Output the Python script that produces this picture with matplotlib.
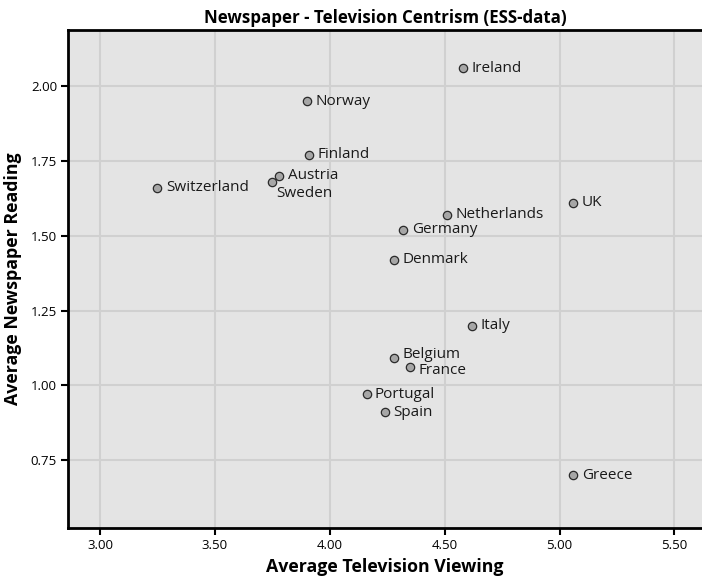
import matplotlib
matplotlib.use("Agg")
import matplotlib.pyplot as plt

# ESS country averages
countries = ["Ireland", "Norway", "Finland", "Austria", "Sweden", "Switzerland",
             "Netherlands", "Germany", "Denmark", "UK", "Italy", "Belgium",
             "France", "Portugal", "Spain", "Greece"]
tv_viewing = [4.58, 3.90, 3.91, 3.78, 3.75, 3.25,
              4.51, 4.32, 4.28, 5.06, 4.62, 4.28,
              4.35, 4.16, 4.24, 5.06]
newspaper_reading = [2.06, 1.95, 1.77, 1.70, 1.68, 1.66,
                     1.57, 1.52, 1.42, 1.61, 1.20, 1.09,
                     1.06, 0.97, 0.91, 0.70]

x_ticks = [3.0, 3.5, 4.0, 4.5, 5.0, 5.5]
y_ticks = [0.75, 1.0, 1.25, 1.5, 1.75, 2.0]

plt.rcParams['font.family'] = ['Open Sans', 'DejaVu Sans']

# label nudges (points) where the default right-hand placement would collide
label_offsets = {"Sweden": (3, -8), "Belgium": (6, 3), "France": (6, -2)}


def create_chart():
    fig = plt.figure(figsize=(7.02, 5.81), dpi=100)
    ax = fig.add_axes([0.097, 0.091, 0.903, 0.857])
    ax.set_facecolor('#e4e4e4')

    ax.scatter(tv_viewing, newspaper_reading, s=36, color='#a6a6a6',
               edgecolor='#2a2a2a', linewidth=0.9, zorder=3)

    for name, x, y in zip(countries, tv_viewing, newspaper_reading):
        off = label_offsets.get(name, (6, 0))
        ax.annotate(name, (x, y), xytext=off, textcoords='offset points',
                    fontsize=11, va='center', ha='left', color='#1a1a1a')

    ax.set_xlim(2.861, 5.62)
    ax.set_ylim(0.523, 2.187)
    ax.set_xticks(x_ticks)
    ax.set_yticks(y_ticks)
    ax.set_xticklabels([f"{t:.2f}" for t in x_ticks], fontsize=9.5)
    ax.set_yticklabels([f"{t:.2f}" for t in y_ticks], fontsize=9.5)
    ax.grid(True, color='#d0d0d0', linewidth=1.5, zorder=0)
    ax.set_axisbelow(True)
    ax.tick_params(direction='out', length=5, width=1.5, color='black', pad=3)

    for side in ['left', 'bottom', 'top']:
        ax.spines[side].set_linewidth(2)
        ax.spines[side].set_color('black')
    ax.spines['right'].set_visible(False)

    ax.set_title('Newspaper - Television Centrism (ESS-data)', fontsize=12.2,
                 fontweight='bold', pad=5)
    ax.set_xlabel('Average Television Viewing', fontsize=12.8, fontweight='bold',
                  labelpad=4)
    ax.set_ylabel('Average Newspaper Reading', fontsize=12.8, fontweight='bold',
                  labelpad=6)

    fig.savefig("out.png", dpi=100)


if __name__ == "__main__":
    create_chart()
